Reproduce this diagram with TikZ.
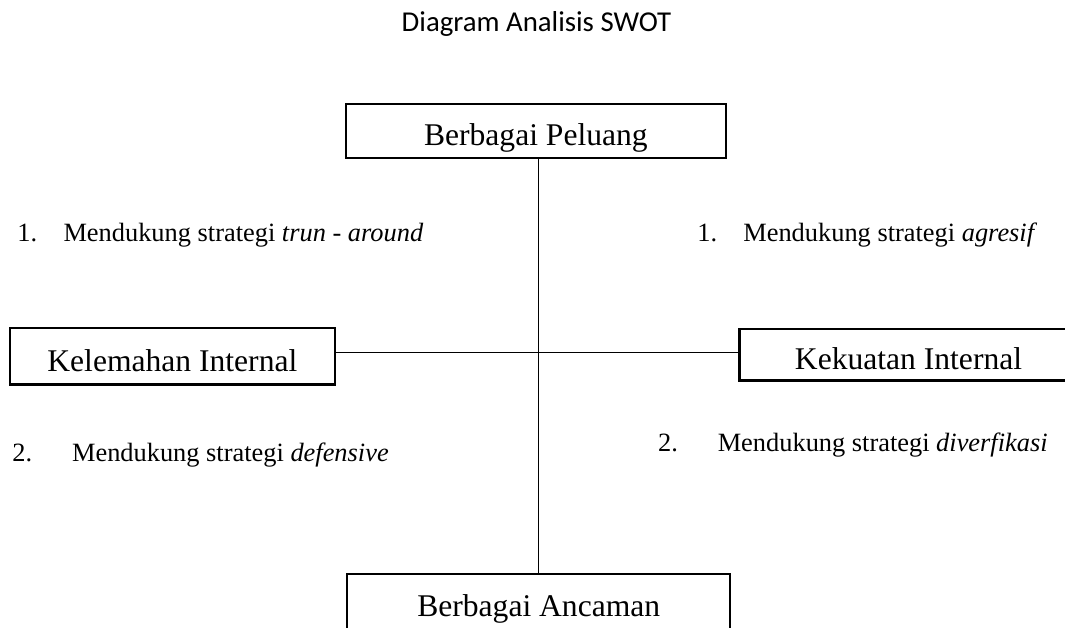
\documentclass[tikz,border=0pt]{standalone}
\usepackage{fontspec}
\setmainfont{Liberation Serif}
\newfontfamily\judulfont{Carlito}
\usepackage{tikz}

\begin{document}
\begin{tikzpicture}[x=1cm,y=1cm,
    kotak/.style={draw, line width=1.1pt, inner sep=0pt, text height=15pt, text depth=0pt, font=\fontsize{15.8}{18}\selectfont},
    butir/.style={anchor=base west, inner sep=0pt, font=\fontsize{13.2}{16}\selectfont}]
    % Batas gambar (kotak kanan dan bawah terpotong)
    \useasboundingbox (-9.47,-4.83) rectangle (9.25,6.20);
    \clip (-9.47,-4.83) rectangle (9.25,6.20);

    % Judul
    \node[anchor=base, font=\judulfont\fontsize{14.4}{17}\selectfont] (judul) at (-0.04,5.64) {Diagram Analisis SWOT};

    % Titik potong kedua sumbu
    \coordinate (pusat) at (0,0);

    % Kotak faktor eksternal dan internal
    \node[kotak, minimum width=6.68cm, minimum height=0.95cm] (peluang) at (-0.05,3.90) {Berbagai Peluang};
    \node[kotak, minimum width=6.73cm, minimum height=0.98cm] (ancaman) at (0,-4.38) {Berbagai Ancaman};
    \node[kotak, minimum width=5.71cm, minimum height=1.00cm] (lemah) at (-6.44,-0.06) {Kelemahan Internal};
    \node[kotak, minimum width=5.94cm, minimum height=0.90cm] (kuat) at (6.50,-0.04) {Kekuatan Internal};

    % Sumbu
    \draw[line width=0.5pt] (peluang.south -| pusat) -- (ancaman.north -| pusat);
    \draw[line width=0.5pt] (lemah.east |- pusat) -- (kuat.west |- pusat);

    % Strategi tiap kuadran
    \node[butir] (turnaround) at (-9.17,1.95) {\makebox[0.81cm][l]{1.}Mendukung strategi \textit{trun - around}};
    \node[butir] (agresif) at (2.78,1.95) {\makebox[0.81cm][l]{1.}Mendukung strategi \textit{agresif}};
    \node[butir] (defensif) at (-9.26,-1.92) {\makebox[1.05cm][l]{2.}Mendukung strategi \textit{defensive}};
    \node[butir] (diversifikasi) at (2.09,-1.74) {\makebox[1.05cm][l]{2.}Mendukung strategi \textit{diverfikasi}};
\end{tikzpicture}
\end{document}
